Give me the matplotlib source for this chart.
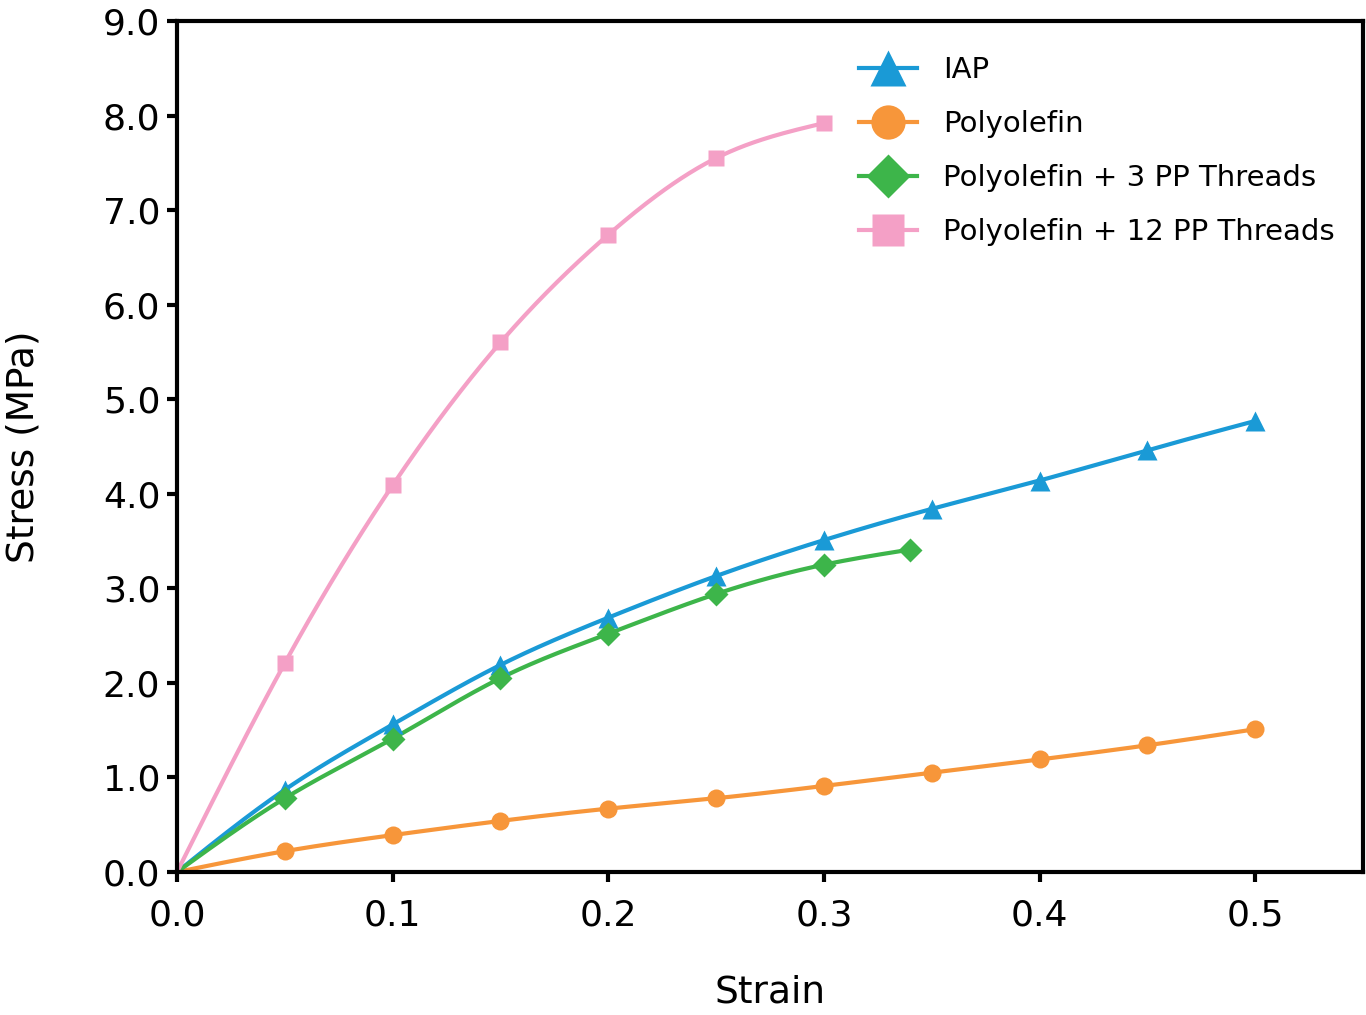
import numpy as np
import matplotlib
matplotlib.use("Agg")
import matplotlib.pyplot as plt
from matplotlib.lines import Line2D

plt.rcParams['font.family'] = ['DejaVu Sans']

strain_iap = [0.0, 0.05, 0.10, 0.15, 0.20, 0.25, 0.30, 0.35, 0.40, 0.45, 0.50]
stress_iap = [0.0, 0.87, 1.56, 2.19, 2.69, 3.13, 3.51, 3.84, 4.14, 4.46, 4.77]

strain_poly = [0.0, 0.05, 0.10, 0.15, 0.20, 0.25, 0.30, 0.35, 0.40, 0.45, 0.50]
stress_poly = [0.0, 0.22, 0.39, 0.54, 0.67, 0.78, 0.91, 1.05, 1.19, 1.34, 1.51]

strain_pp3 = [0.0, 0.05, 0.10, 0.15, 0.20, 0.25, 0.30, 0.34]
stress_pp3 = [0.0, 0.78, 1.41, 2.05, 2.52, 2.94, 3.25, 3.41]

strain_pp12 = [0.0, 0.05, 0.10, 0.15, 0.20, 0.25, 0.30]
stress_pp12 = [0.0, 2.21, 4.09, 5.60, 6.74, 7.55, 7.92]

labels = ["IAP", "Polyolefin", "Polyolefin + 3 PP Threads", "Polyolefin + 12 PP Threads"]
colors = ["#1a9ad6", "#f7963a", "#3db54a", "#f4a0c6"]
markers = ["^", "o", "D", "s"]
msizes = [14, 13, 12, 12]

xticks = [0.0, 0.1, 0.2, 0.3, 0.4, 0.5]
yticks = [0.0, 1.0, 2.0, 3.0, 4.0, 5.0, 6.0, 7.0, 8.0, 9.0]


def smooth(x, y, n=40):
    """Natural cubic spline through the data points."""
    x = np.asarray(x, float)
    y = np.asarray(y, float)
    N = len(x)
    h = np.diff(x)
    A = np.zeros((N, N))
    b = np.zeros(N)
    A[0, 0] = 1.0
    A[-1, -1] = 1.0
    for i in range(1, N - 1):
        A[i, i - 1] = h[i - 1]
        A[i, i] = 2 * (h[i - 1] + h[i])
        A[i, i + 1] = h[i]
        b[i] = 6 * ((y[i + 1] - y[i]) / h[i] - (y[i] - y[i - 1]) / h[i - 1])
    M = np.linalg.solve(A, b)
    ox, oy = [], []
    for i in range(N - 1):
        t = np.linspace(x[i], x[i + 1], n, endpoint=False)
        a = x[i + 1] - t
        c = t - x[i]
        s = (M[i] * a ** 3 + M[i + 1] * c ** 3) / (6 * h[i]) \
            + (y[i] / h[i] - M[i] * h[i] / 6) * a \
            + (y[i + 1] / h[i] - M[i + 1] * h[i] / 6) * c
        ox.extend(t); oy.extend(s)
    ox.append(x[-1]); oy.append(y[-1])
    return np.array(ox), np.array(oy)


fig = plt.figure(figsize=(13.66, 10.15), dpi=100)
ax = fig.add_axes([0.1296, 0.1409, 0.8682, 0.8384])

series = [(strain_iap, stress_iap), (strain_poly, stress_poly),
          (strain_pp3, stress_pp3), (strain_pp12, stress_pp12)]
handles = []
for (xs, ys), c, m, ms, lab in zip(series, colors, markers, msizes, labels):
    sx, sy = smooth(xs, ys)
    ax.plot(sx, sy, color=c, lw=3, solid_capstyle='round', zorder=2)
    ax.plot(xs[1:], ys[1:], ls='none', marker=m, ms=ms, color=c, mec='none', zorder=3)
    handles.append(Line2D([], [], color=c, lw=3, marker=m, ms=ms * 1.9, mec='none', label=lab))

ax.set_xlim(0, 0.55)
ax.set_ylim(0, 9.0)
ax.set_xticks(xticks)
ax.set_xticklabels([f"{v:.1f}" for v in xticks])
ax.set_yticks(yticks)
ax.set_yticklabels([f"{v:.1f}" for v in yticks])
ax.tick_params(axis='both', direction='out', length=7, width=3, labelsize=26)
ax.tick_params(axis='x', pad=12)
ax.tick_params(axis='y', pad=5)
for s in ax.spines.values():
    s.set_linewidth(3)
ax.set_xlabel("Strain", fontsize=27, labelpad=30)
ax.set_ylabel("Stress (MPa)", fontsize=27, labelpad=44)

ax.legend(handles=handles, loc='upper right', frameon=False, fontsize=21,
          handlelength=2.0, handletextpad=0.9, labelspacing=0.89,
          bbox_to_anchor=(0.991, 0.979), borderaxespad=0.2)

fig.savefig("out.png", dpi=100)
